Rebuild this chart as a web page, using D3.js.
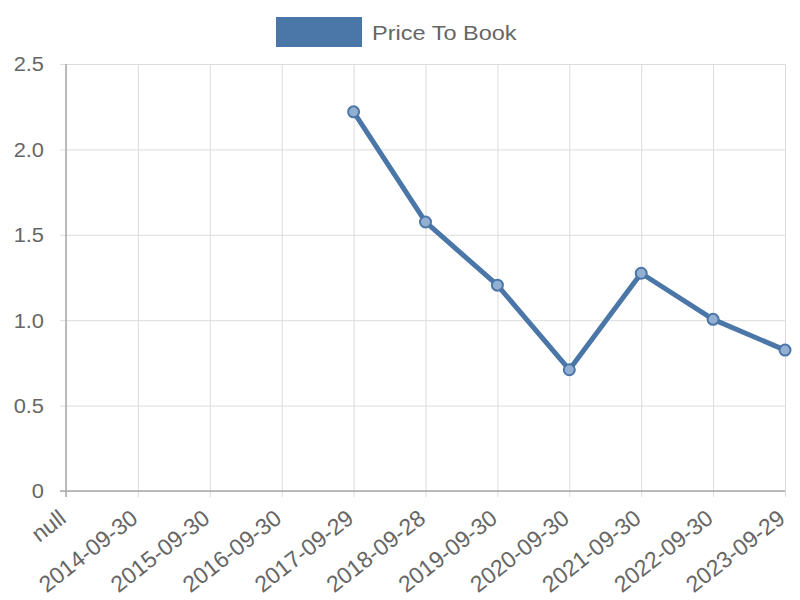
<!DOCTYPE html>
<meta charset="utf-8">
<title>Price To Book</title>
<style>
  body { margin: 0; background: #fff; }
  text { font-family: "Liberation Sans", Arial, sans-serif; fill: #666; }
</style>
<body>
<script src="https://d3js.org/d3.v7.min.js"></script>
<script>

// data
var labels = ["null", "2014-09-30", "2015-09-30", "2016-09-30", "2017-09-29", "2018-09-28",
              "2019-09-30", "2020-09-30", "2021-09-30", "2022-09-30", "2023-09-29"];
var values = [null, null, null, null, 2.22, 1.575, 1.205, 0.71, 1.275, 1.005, 0.825];
var yTicks = [0, 0.5, 1.0, 1.5, 2.0, 2.5];
var seriesName = "Price To Book";

var width = 800, height = 600;
var mLeft = 66, mRight = 785, mTop = 64, mBottom = 491;
var lineColor = "#4a76a8";
var stretch = 1.12; // text in the picture looks a bit wider than tall

var svg = d3.select("body").append("svg")
  .attr("width", width)
  .attr("height", height);

var x = d3.scalePoint().domain(labels).range([mLeft, mRight]);
var y = d3.scaleLinear().domain([0, 2.5]).range([mBottom, mTop]);

// horizontal grid
svg.append("g")
  .attr("transform", "translate(" + mLeft + ",0)")
  .call(d3.axisLeft(y).tickValues(yTicks).tickSize(6)
    .tickFormat(function(d) { return d === 0 ? "0" : d3.format(".1f")(d); }))
  .call(function(g) {
    g.select(".domain").remove();
    g.selectAll(".tick line").attr("x2", mRight - mLeft).attr("x1", -6).attr("stroke", "#dcdcdc");
    g.selectAll(".tick text").attr("x", 0).attr("dy", "0.35em")
      .attr("transform", "translate(-22,0) scale(" + stretch + ",1)")
      .style("font-size", "19.5px").attr("fill", "#666");
  });

// vertical grid + rotated labels
svg.append("g")
  .attr("transform", "translate(0," + mBottom + ")")
  .call(d3.axisBottom(x).tickSize(0))
  .call(function(g) {
    g.select(".domain").remove();
    g.selectAll(".tick line").attr("y1", -(mBottom - mTop)).attr("y2", 6).attr("stroke", "#dcdcdc");
    g.selectAll(".tick text")
      .attr("y", 0).attr("dy", 0)
      .attr("text-anchor", "end")
      .attr("transform", "translate(1,30) rotate(-38)")
      .style("font-size", "23px").attr("fill", "#666");
  });

// axis lines
svg.append("line").attr("x1", mLeft).attr("x2", mLeft).attr("y1", mTop).attr("y2", mBottom + 6)
  .attr("stroke", "#aaa").attr("stroke-width", 1.5);
svg.append("line").attr("x1", mLeft - 6).attr("x2", mRight).attr("y1", mBottom).attr("y2", mBottom)
  .attr("stroke", "#aaa").attr("stroke-width", 1.5);

// line
var pts = labels.map(function(l, i) { return { label: l, value: values[i] }; })
  .filter(function(d) { return d.value != null; });

svg.append("path")
  .datum(pts)
  .attr("fill", "none")
  .attr("stroke", lineColor)
  .attr("stroke-width", 5)
  .attr("stroke-linejoin", "round")
  .attr("d", d3.line().x(function(d) { return x(d.label); }).y(function(d) { return y(d.value); }));

svg.selectAll(".pt").data(pts).enter().append("circle")
  .attr("class", "pt")
  .attr("cx", function(d) { return x(d.label); })
  .attr("cy", function(d) { return y(d.value); })
  .attr("r", 5.5)
  .attr("fill", "#93afd2")
  .attr("stroke", lineColor)
  .attr("stroke-width", 2);

// legend
svg.append("rect").attr("x", 276).attr("y", 17).attr("width", 86).attr("height", 30)
  .attr("fill", lineColor);
svg.append("text")
  .attr("transform", "translate(372,40) scale(" + stretch + ",1)")
  .style("font-size", "21px").attr("fill", "#666")
  .text(seriesName);

</script>
